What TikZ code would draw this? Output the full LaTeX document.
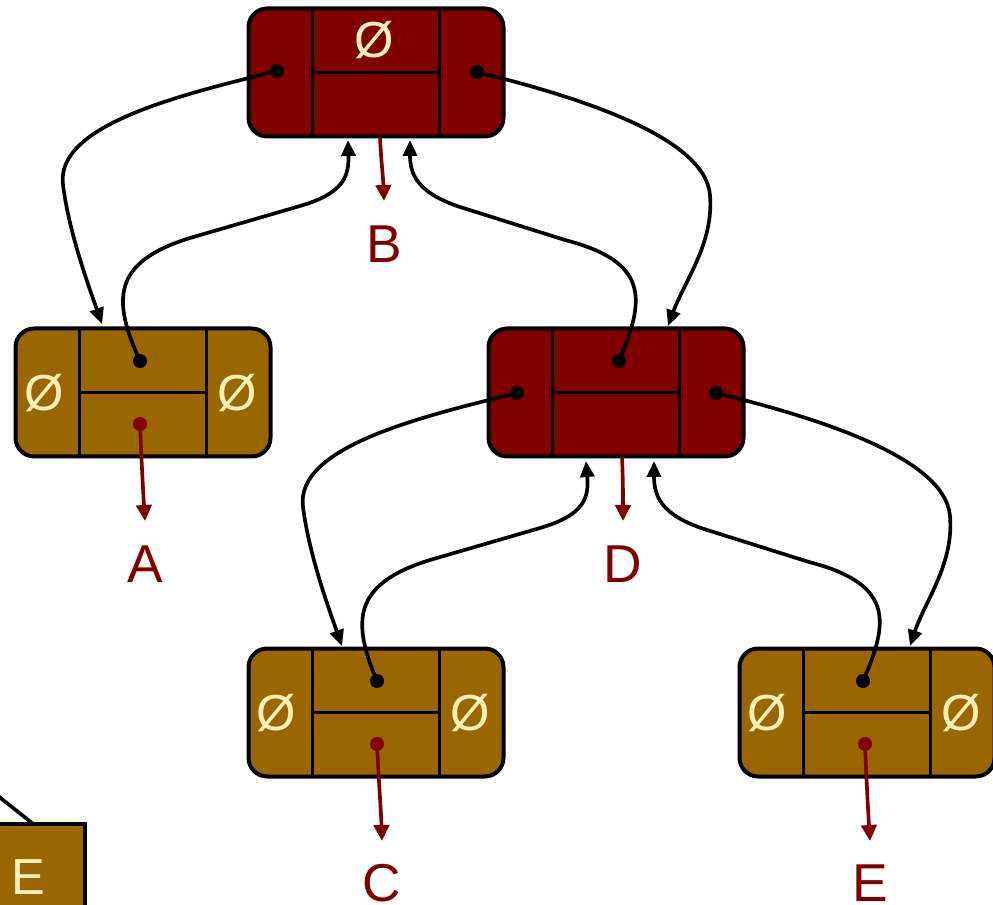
\documentclass[tikz,border=0pt]{standalone}
\usepackage{fontspec}
\setmainfont{Liberation Sans}
\usetikzlibrary{arrows.meta,calc}
\definecolor{nodered}{HTML}{800000}
\definecolor{nodebrown}{HTML}{996600}
\definecolor{nullcream}{HTML}{FFEFB8}
\tikzset{every picture/.style={line width=0.75pt}}
\tikzset{
	treenode/.style={draw=black, line width=3pt, rounded corners=14pt, minimum width=191.25pt, minimum height=96pt, inner sep=0pt, outer sep=0pt},
	rednode/.style={treenode, fill=nodered},
	brownnode/.style={treenode, fill=nodebrown},
	divider/.style={draw=black, line width=2.75pt},
	ptr/.style={circle, fill=black, inner sep=0pt, minimum size=10.5pt},
	dataptr/.style={ptr, fill=nodered},
	link/.style={draw=black, line width=2.75pt, -{Triangle[length=12pt,width=10.5pt]}},
	datalink/.style={draw=nodered, line width=2.75pt, -{Triangle[length=12pt,width=11.5pt]}},
	keylabel/.style={text=nodered, inner sep=0pt, font=\fontsize{40}{48}\selectfont},
	nulllabel/.style={text=nullcream, inner sep=0pt, font=\fontsize{38}{46}\selectfont},
}

\begin{document}
\begin{tikzpicture}[x=0.75pt,y=0.75pt,yscale=-1,xscale=1]
	\useasboundingbox (0,0) rectangle (993,905);
	\clip (0,0) rectangle (993,905);

	%Shape: Boxes
	\node[rednode] (B) at (376,72.5) {};
	\node[brownnode] (A) at (143,392.5) {};
	\node[rednode] (D) at (616,392.5) {};
	\node[brownnode] (C) at (376,712.5) {};
	\node[brownnode] (E) at (867,712.5) {};
	%Shape: Cut box, lower left
	\node[draw=black, fill=nodebrown, line width=3pt, minimum width=78.75pt, minimum height=84pt, inner sep=0pt, outer sep=0pt] (Epart) at (32.5,880) {};

	%Straight Lines: cell dividers
	\draw[divider] ($(B.north west)+(64,0)$) -- ($(B.south west)+(64,0)$);
	\draw[divider] ($(B.north east)+(-64,0)$) -- ($(B.south east)+(-64,0)$);
	\draw[divider] ($(B.west)+(64,0)$) -- ($(B.east)+(-64,0)$);
	\draw[divider] ($(A.north west)+(64,0)$) -- ($(A.south west)+(64,0)$);
	\draw[divider] ($(A.north east)+(-64,0)$) -- ($(A.south east)+(-64,0)$);
	\draw[divider] ($(A.west)+(64,0)$) -- ($(A.east)+(-64,0)$);
	\draw[divider] ($(D.north west)+(64,0)$) -- ($(D.south west)+(64,0)$);
	\draw[divider] ($(D.north east)+(-64,0)$) -- ($(D.south east)+(-64,0)$);
	\draw[divider] ($(D.west)+(64,0)$) -- ($(D.east)+(-64,0)$);
	\draw[divider] ($(C.north west)+(64,0)$) -- ($(C.south west)+(64,0)$);
	\draw[divider] ($(C.north east)+(-64,0)$) -- ($(C.south east)+(-64,0)$);
	\draw[divider] ($(C.west)+(64,0)$) -- ($(C.east)+(-64,0)$);
	\draw[divider] ($(E.north west)+(64,0)$) -- ($(E.south west)+(64,0)$);
	\draw[divider] ($(E.north east)+(-64,0)$) -- ($(E.south east)+(-64,0)$);
	\draw[divider] ($(E.west)+(64,0)$) -- ($(E.east)+(-64,0)$);

	% Text Node: null entries
	\node[nulllabel] (Bnull) at (374,40) {Ø};
	\node[nulllabel] (Anull1) at (44,393) {Ø};
	\node[nulllabel] (Anull2) at (237,393) {Ø};
	\node[nulllabel] (Cnull1) at (276,713) {Ø};
	\node[nulllabel] (Cnull2) at (470,713) {Ø};
	\node[nulllabel] (Enull1) at (767,713) {Ø};
	\node[nulllabel] (Enull2) at (961,713) {Ø};
	\node[nulllabel] (Epartkey) at (28,877) {E};

	%Shape: pointer dots
	\node[ptr] (Bl) at (277,71) {};
	\node[ptr] (Br) at (477,72) {};
	\node[ptr] (At) at (140,361) {};
	\node[dataptr] (Ab) at (140,424) {};
	\node[ptr] (Dt) at (619,361) {};
	\node[ptr] (Dl) at (517,393) {};
	\node[ptr] (Dr) at (716,393) {};
	\node[ptr] (Ct) at (377,681) {};
	\node[dataptr] (Cb) at (377,744) {};
	\node[ptr] (Et) at (863,681) {};
	\node[dataptr] (Eb) at (865,744) {};

	%Coordinates: arrow ends
	\coordinate (Bin1) at (348,140);
	\coordinate (Bin2) at (410,140);
	\coordinate (Ain) at (102,324);
	\coordinate (Din) at (668,326);
	\coordinate (Din1) at (586,461);
	\coordinate (Din2) at (654,461);
	\coordinate (Cin) at (342,646);
	\coordinate (Ein) at (910,646);
	\coordinate (Bs) at (380,137);
	\coordinate (Ds) at (622,457);
	\coordinate (Epartin) at (32,823);
	\coordinate (Efrom) at (-12,788);

	% Text Node: keys
	\node[keylabel] (keyB) at (384,244) {B};
	\node[keylabel] (keyA) at (145,564) {A};
	\node[keylabel] (keyD) at (623,564) {D};
	\node[keylabel] (keyC) at (382,883) {C};
	\node[keylabel] (keyE) at (870,883) {E};

	%Curve Lines: child links
	\draw[link] (Bl.center) .. controls (180,95) and (55,125) .. (63,185) .. controls (69,233) and (90,290) .. (Ain);
	\draw[link] (Br.center) .. controls (570,95) and (705,135) .. (710,195) .. controls (714,243) and (685,280) .. (Din);
	\draw[link] (Dl.center) .. controls (420,417) and (295,447) .. (303,507) .. controls (309,555) and (330,612) .. (Cin);
	\draw[link] (Dr.center) .. controls (810,416) and (945,456) .. (950,516) .. controls (954,564) and (925,601) .. (Ein);
	%Curve Lines: parent links
	\draw[link] (At.center) .. controls (112,300) and (112,262) .. (190,238) -- (300,206) .. controls (345,193) and (349,175) .. (Bin1);
	\draw[link] (Dt.center) .. controls (645,300) and (650,262) .. (565,240) -- (460,207) .. controls (418,193) and (410,175) .. (Bin2);
	\draw[link] (Ct.center) .. controls (352,622) and (352,584) .. (430,560) -- (540,528) .. controls (585,515) and (589,497) .. (Din1);
	\draw[link] (Et.center) .. controls (889,622) and (894,584) .. (809,562) -- (704,529) .. controls (662,515) and (654,497) .. (Din2);

	%Straight Lines: data links
	\draw[datalink] (Bs) .. controls (381,160) and (383,175) .. (keyB.north |- 0,201);
	\draw[datalink] (Ab.center) .. controls (141,450) and (143,490) .. (keyA.north |- 0,521);
	\draw[datalink] (Ds) .. controls (623,480) and (623,495) .. (keyD.north |- 0,521);
	\draw[datalink] (Cb.center) .. controls (378,770) and (381,810) .. (keyC.north |- 0,841);
	\draw[datalink] (Eb.center) .. controls (866,770) and (868,810) .. (keyE.north |- 0,841);

	%Straight Lines: link into cut box
	\draw[line width=2.75pt] (Efrom) -- (Epartin);

\end{tikzpicture}
\end{document}
